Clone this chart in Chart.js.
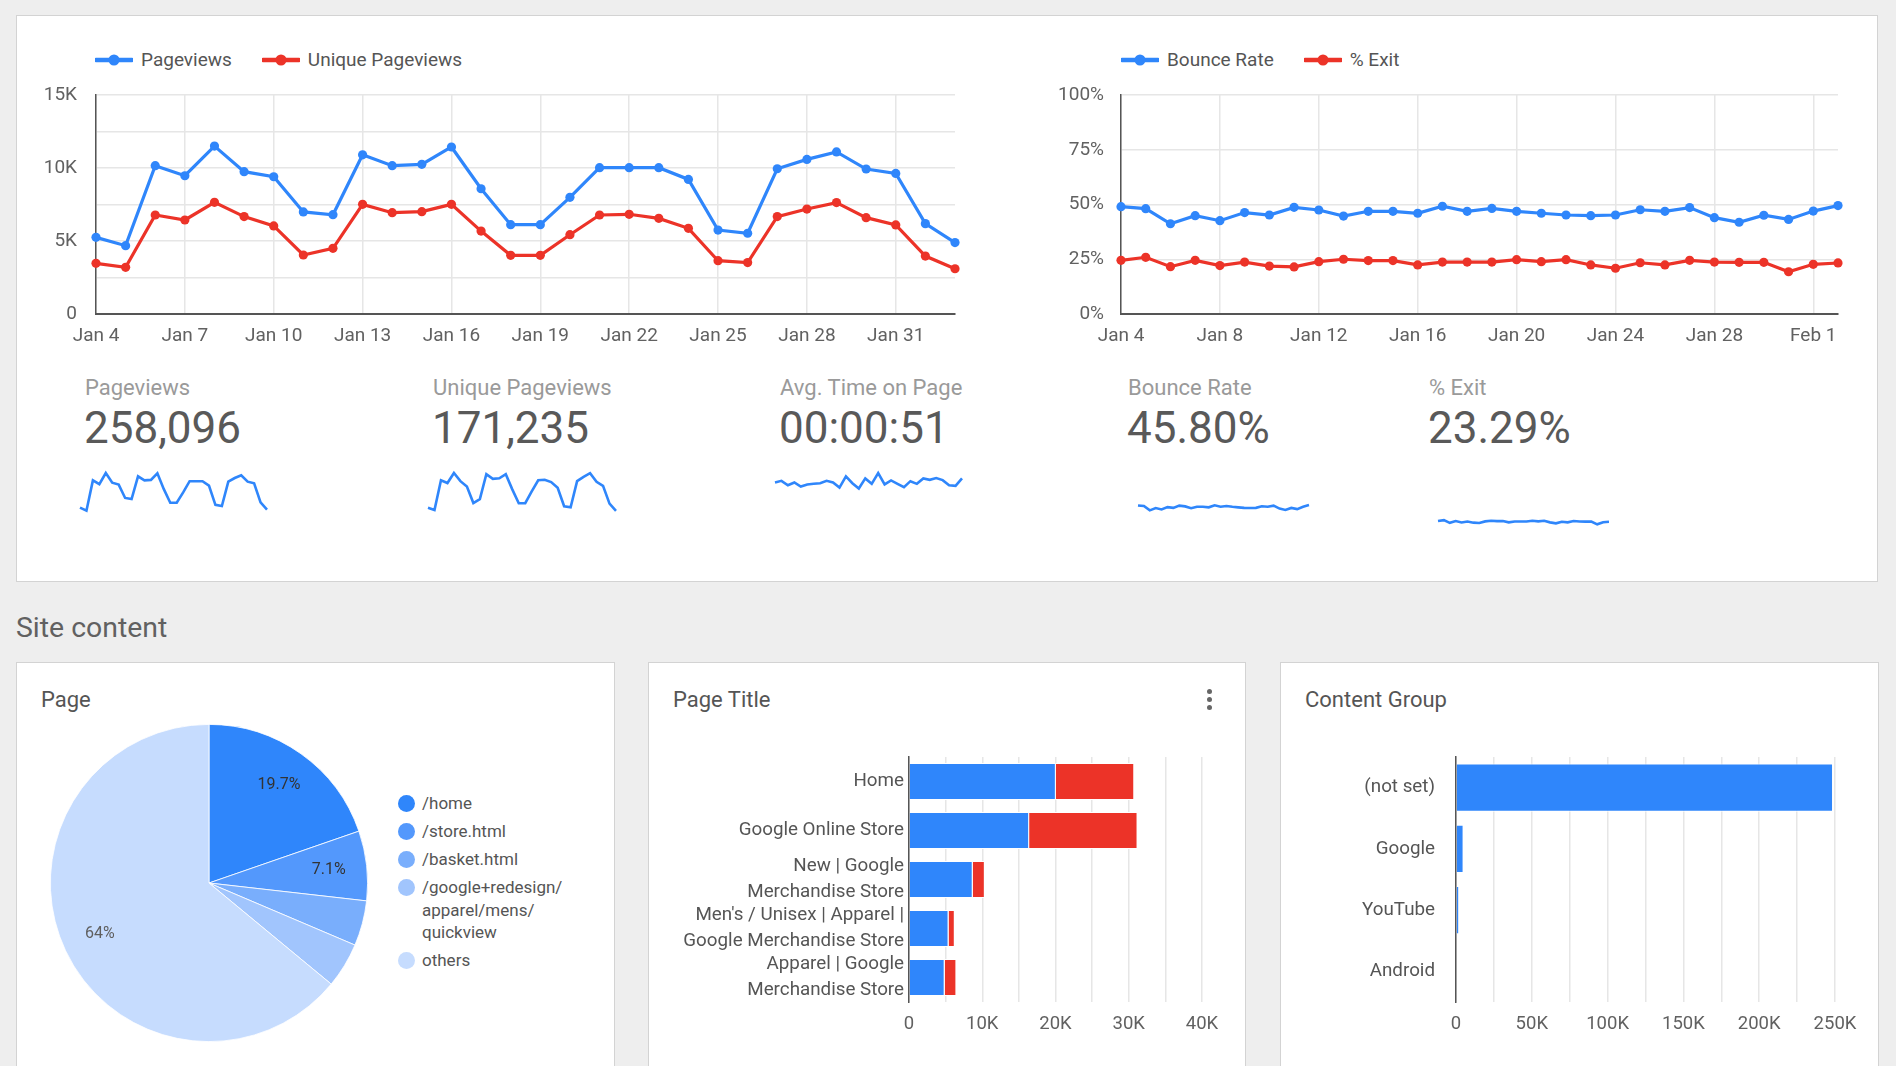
<!DOCTYPE html>
<html>
<head>
<meta charset="utf-8">
<title>Site content overview</title>
<script src="https://cdn.jsdelivr.net/npm/chart.js@4.4.1/dist/chart.umd.min.js"></script>
<style>
  html, body { margin: 0; padding: 0; }
  body {
    width: 1896px; height: 1066px; overflow: hidden; position: relative;
    background: #eeeeee; font-family: Roboto, 'Open Sans', sans-serif; color: #555;
  }
  .panel { position: absolute; background: #fff; border: 1px solid #d3d3d3; box-sizing: border-box; }
  canvas { position: absolute; display: block; }
  .txt { position: absolute; white-space: nowrap; }

  /* top trend legends */
  .legend { position: absolute; top: 48px; display: flex; font-size: 19px; line-height: 24px; color: #555; }
  .legend .item { display: flex; align-items: center; margin-right: 30px; }
  .legend svg { margin-right: 8px; }

  /* scorecards */
  .score-label { font-size: 22px; line-height: 24px; top: 376px; color: #9a9a9a; }
  .score-value { font-size: 44px; line-height: 50px; top: 403px; color: #595959; }

  .section { left: 16px; top: 612px; font-size: 28.4px; line-height: 32px; color: #616161; }
  .card-title { top: 688px; font-size: 22px; line-height: 24px; color: #555; }

  /* pie legend */
  #pieLegend { position: absolute; left: 398px; top: 792px; font-size: 17px; line-height: 22.5px; color: #555; }
  #pieLegend .row { display: flex; margin-bottom: 5.5px; }
  #pieLegend .dot { width: 17px; height: 17px; border-radius: 50%; margin: 2.75px 7px 0 0; flex: none; }
  #pieLegend .lbl { max-width: 160px; white-space: normal; }

  .menu { position: absolute; left: 1207px; top: 689px; }
  .menu span { display: block; width: 5px; height: 5px; border-radius: 50%; background: #666; margin-bottom: 3px; }
</style>
</head>
<body>

<!-- ═══ Top panel: trends + scorecards ═══ -->
<div class="panel" style="left:16px; top:15px; width:1862px; height:567px;"></div>

<div class="legend" id="legendTraffic" style="left:95px;"></div>
<div class="legend" id="legendRates" style="left:1121px;"></div>

<canvas id="trafficChart" width="950" height="300" style="left:16px; top:55px;"></canvas>
<canvas id="ratesChart"   width="810" height="300" style="left:1040px; top:55px;"></canvas>

<div id="scorecards"></div>

<canvas id="spark0" width="193" height="72" style="left:77px;   top:468px;"></canvas>
<canvas id="spark1" width="194" height="72" style="left:425px;  top:468px;"></canvas>
<canvas id="spark2" width="193" height="72" style="left:772px;  top:468px;"></canvas>
<canvas id="spark3" width="177" height="72" style="left:1135px; top:468px;"></canvas>
<canvas id="spark4" width="177" height="72" style="left:1435px; top:468px;"></canvas>

<!-- ═══ Site content ═══ -->
<div class="txt section">Site content</div>

<div class="panel" style="left:16px;   top:662px; width:599px; height:420px;"></div>
<div class="panel" style="left:648px;  top:662px; width:598px; height:420px;"></div>
<div class="panel" style="left:1280px; top:662px; width:599px; height:420px;"></div>

<div class="txt card-title" style="left:41px;">Page</div>
<div class="txt card-title" style="left:673px;">Page Title</div>
<div class="txt card-title" style="left:1305px;">Content Group</div>
<div class="menu"><span></span><span></span><span></span></div>

<canvas id="pageChart" width="318" height="318" style="left:50px; top:724px;"></canvas>
<div id="pieLegend"></div>

<canvas id="titleChart" width="598" height="349" style="left:648px;  top:717px;"></canvas>
<canvas id="groupChart" width="599" height="349" style="left:1280px; top:717px;"></canvas>

<script>
'use strict';

/* ═══════════════════════════════════════════════════════════
 *  DATA
 * ═══════════════════════════════════════════════════════════ */
const DAYS = [
  'Jan 4', 'Jan 5', 'Jan 6', 'Jan 7', 'Jan 8', 'Jan 9', 'Jan 10', 'Jan 11', 'Jan 12', 'Jan 13',
  'Jan 14', 'Jan 15', 'Jan 16', 'Jan 17', 'Jan 18', 'Jan 19', 'Jan 20', 'Jan 21', 'Jan 22', 'Jan 23',
  'Jan 24', 'Jan 25', 'Jan 26', 'Jan 27', 'Jan 28', 'Jan 29', 'Jan 30', 'Jan 31', 'Feb 1', 'Feb 2',
];
const PAGEVIEWS = [
  5250, 4680, 10160, 9470, 11500, 9750, 9400, 6990, 6800, 10900,
  10160, 10250, 11440, 8580, 6120, 6120, 7990, 10020, 10020, 10020,
  9220, 5750, 5530, 9950, 10590, 11100, 9930, 9630, 6190, 4890,
];
const UNIQUE_PAGEVIEWS = [
  3470, 3200, 6780, 6440, 7650, 6670, 6030, 4040, 4500, 7510,
  6940, 7010, 7510, 5680, 4020, 4020, 5430, 6780, 6830, 6550,
  5870, 3650, 3520, 6670, 7190, 7630, 6600, 6100, 3970, 3100,
];
const AVG_TIME_SEC = [
  51.0, 52.5, 48.4, 51.0, 47.2, 49.1, 49.7, 50.3, 52.5, 51.0,
  46.2, 56.7, 50.3, 45.3, 54.8, 49.7, 59.9, 49.1, 52.9, 49.7,
  46.5, 52.2, 49.7, 54.8, 53.5, 55.1, 53.2, 48.4, 47.8, 54.8,
];
const BOUNCE_RATE = [
  49.0, 48.1, 41.2, 44.9, 42.6, 46.3, 45.2, 48.7, 47.5, 44.7,
  46.9, 46.9, 46.0, 49.2, 46.9, 48.2, 46.9, 46.0, 45.2, 44.9,
  45.2, 47.6, 46.9, 48.6, 44.0, 41.9, 45.1, 43.2, 47.0, 49.5,
];
const EXIT_RATE = [
  24.5, 25.9, 21.6, 24.5, 22.1, 23.7, 21.9, 21.5, 23.9, 25.0,
  24.4, 24.4, 22.4, 23.7, 23.7, 23.7, 24.8, 23.9, 24.8, 22.4,
  20.9, 23.4, 22.4, 24.5, 23.7, 23.6, 23.6, 19.3, 22.7, 23.3,
];

const SCORE_LABELS = ['Pageviews', 'Unique Pageviews', 'Avg. Time on Page', 'Bounce Rate', '% Exit'];
const SCORE_VALUES = ['258,096', '171,235', '00:00:51', '45.80%', '23.29%'];

const PAGES       = ['/home', '/store.html', '/basket.html', '/google+redesign/apparel/mens/quickview', 'others'];
const PAGE_SHARE  = [19.7, 7.1, 4.6, 4.6, 64.0];

const PAGE_TITLES = [
  'Home',
  'Google Online Store',
  ['New | Google', 'Merchandise Store'],
  ["Men's / Unisex | Apparel |", 'Google Merchandise Store'],
  ['Apparel | Google', 'Merchandise Store'],
];
const TITLE_PAGEVIEWS        = [20050, 16400, 8700, 5400, 4870];
const TITLE_UNIQUE_PAGEVIEWS = [10700, 14800, 1650, 850, 1600];

const CONTENT_GROUPS = ['(not set)', 'Google', 'YouTube', 'Android'];
const GROUP_PAGEVIEWS = [248700, 5000, 2100, 500];

/* ═══════════════════════════════════════════════════════════
 *  STYLE
 * ═══════════════════════════════════════════════════════════ */
const BLUE = '#2f86fb';
const RED  = '#ec3328';
const GRID = '#e6e6e6';
const AXIS = '#555555';
const PIE_COLORS = ['#2f86fb', '#5398fc', '#79aefc', '#a1c5fd', '#c6dcfe'];

Chart.defaults.font.family = "Roboto, 'Open Sans', sans-serif";
Chart.defaults.color = '#616161';
Chart.defaults.animation = false;
Chart.defaults.responsive = false;
Chart.defaults.plugins.legend.display = false;
Chart.defaults.plugins.tooltip.enabled = false;

const kFormat = (v) => (v === 0 ? '0' : v / 1000 + 'K');

/* ═══════════════════════════════════════════════════════════
 *  HTML LEGENDS (line + dot marker)
 * ═══════════════════════════════════════════════════════════ */
function buildLegend(id, items) {
  const el = document.getElementById(id);
  el.innerHTML = items.map((it) =>
    '<div class="item"><svg width="38" height="12">' +
    '<line x1="1" y1="6" x2="37" y2="6" stroke="' + it.color + '" stroke-width="4.5" stroke-linecap="round"/>' +
    '<circle cx="19" cy="6" r="5.5" fill="' + it.color + '"/></svg>' + it.label + '</div>'
  ).join('');
}

/* ═══════════════════════════════════════════════════════════
 *  TREND LINE CHARTS
 *  (top padding 40 is larger than the axis label overhang,
 *   so the plot top lands at canvas top + 40)
 * ═══════════════════════════════════════════════════════════ */
function initTrend(id, series, o) {
  new Chart(document.getElementById(id), {
    type: 'line',
    data: {
      labels: DAYS,
      datasets: series.map((s) => ({
        label: s.label,
        data: s.data,
        borderColor: s.color,
        backgroundColor: s.color,
        borderWidth: 3.2,
        pointRadius: 4.6,
        pointBorderWidth: 0,
        tension: 0,
        clip: false,
      })),
    },
    options: {
      layout: { padding: { top: 40, right: o.padRight, left: 0, bottom: 0 } },
      scales: {
        x: {
          grid: {
            color: (c) => (c.index % o.every === 0 ? GRID : 'rgba(0,0,0,0)'),
            lineWidth: 1.5,
            drawTicks: false,
          },
          border: { color: AXIS, width: 2 },
          ticks: {
            autoSkip: false, maxRotation: 0, minRotation: 0, padding: 11,
            font: { size: 19 },
            callback: (v, i) => (i % o.every === 0 ? DAYS[i] : ''),
          },
          afterFit: (s) => { s.height = 41; },
        },
        y: {
          min: 0, max: o.max,
          grid: { color: GRID, lineWidth: 1.5, drawTicks: false },
          border: { color: AXIS, width: 1.5 },
          ticks: { stepSize: o.step, padding: o.tickPad, font: { size: 19 }, callback: o.format },
          afterFit: (s) => { s.width = o.yWidth; },
        },
      },
    },
  });
}

/* ═══════════════════════════════════════════════════════════
 *  SPARKLINES
 * ═══════════════════════════════════════════════════════════ */
function initSpark(id, data, max) {
  new Chart(document.getElementById(id), {
    type: 'line',
    data: {
      labels: DAYS,
      datasets: [{ data: data, borderColor: BLUE, borderWidth: 2.6, pointRadius: 0, tension: 0, clip: false }],
    },
    options: {
      layout: { padding: { left: 3, right: 3, top: 5, bottom: 3.4 } },
      scales: {
        x: { display: false },
        y: { display: false, min: 0, max: max },
      },
    },
  });
}

/* ═══════════════════════════════════════════════════════════
 *  PIE (Page)
 * ═══════════════════════════════════════════════════════════ */
const pieLabels = {
  id: 'pieLabels',
  afterDatasetsDraw(chart) {
    const ctx = chart.ctx;
    const data = chart.data.datasets[0].data;
    const total = data.reduce((a, b) => a + b, 0);
    ctx.save();
    ctx.font = "16px Roboto, sans-serif";
    ctx.textAlign = 'center';
    ctx.textBaseline = 'middle';
    chart.getDatasetMeta(0).data.forEach((arc, i) => {
      const pct = data[i] / total * 100;
      if (pct < 7) return;
      const mid = (arc.startAngle + arc.endAngle) / 2;
      const r = arc.outerRadius * 0.76;
      ctx.fillStyle = i < 2 ? '#333' : '#5f5f5f';
      ctx.fillText(parseFloat(pct.toFixed(1)) + '%', arc.x + Math.cos(mid) * r, arc.y + Math.sin(mid) * r);
    });
    ctx.restore();
  },
};

function initPie() {
  new Chart(document.getElementById('pageChart'), {
    type: 'pie',
    data: {
      labels: PAGES,
      datasets: [{ data: PAGE_SHARE, backgroundColor: PIE_COLORS, borderColor: '#ffffff', borderWidth: 0.8 }],
    },
    options: { layout: { padding: 0 } },
    plugins: [pieLabels],
  });

  document.getElementById('pieLegend').innerHTML = PAGES.map((p, i) =>
    '<div class="row"><div class="dot" style="background:' + PIE_COLORS[i] + '"></div>' +
    '<div class="lbl">' + p.replace(/\//g, '/<wbr>') + '</div></div>'
  ).join('');
}

/* ═══════════════════════════════════════════════════════════
 *  HORIZONTAL BARS
 * ═══════════════════════════════════════════════════════════ */
function initBars(id, labels, datasets, o) {
  new Chart(document.getElementById(id), {
    type: 'bar',
    data: {
      labels: labels,
      datasets: datasets.map((d) => ({
        label: d.label, data: d.data, backgroundColor: d.color,
        borderColor: '#ffffff', borderWidth: 1,
        barPercentage: o.barPct, categoryPercentage: 1,
      })),
    },
    options: {
      indexAxis: 'y',
      layout: { padding: { top: 40, right: o.padRight, left: 0, bottom: 0 } },
      scales: {
        x: {
          stacked: true, min: 0, max: o.max,
          grid: { color: GRID, lineWidth: 1.5, drawTicks: false },
          border: { display: false },
          ticks: {
            stepSize: o.step, padding: 11, font: { size: 18.5 },
            autoSkip: false, maxRotation: 0, minRotation: 0,
            callback: (v) => (v % o.labelEvery === 0 ? kFormat(v) : ''),
          },
          afterFit: (s) => { s.height = 64; },
        },
        y: {
          stacked: true,
          grid: { display: false, drawTicks: false },
          border: { color: AXIS, width: 1.5 },
          ticks: { color: '#555', padding: o.tickPad, font: { size: 18.8, lineHeight: 1.36 }, autoSkip: false },
          afterFit: (s) => { s.width = o.yWidth; },
        },
      },
    },
  });
}

/* ═══════════════════════════════════════════════════════════
 *  SCORECARDS
 * ═══════════════════════════════════════════════════════════ */
function initScorecards() {
  const xs = [85, 433, 780, 1128, 1429];
  document.getElementById('scorecards').innerHTML = SCORE_LABELS.map((l, i) =>
    '<div class="txt score-label" style="left:' + xs[i] + 'px">' + l + '</div>' +
    '<div class="txt score-value" style="left:' + (xs[i] - 1) + 'px">' + SCORE_VALUES[i] + '</div>'
  ).join('');
}

/* ═══════════════════════════════════════════════════════════
 *  INIT
 * ═══════════════════════════════════════════════════════════ */
buildLegend('legendTraffic', [
  { label: 'Pageviews', color: BLUE },
  { label: 'Unique Pageviews', color: RED },
]);
buildLegend('legendRates', [
  { label: 'Bounce Rate', color: BLUE },
  { label: '% Exit', color: RED },
]);

initTrend('trafficChart', [
  { label: 'Pageviews', data: PAGEVIEWS, color: BLUE },
  { label: 'Unique Pageviews', data: UNIQUE_PAGEVIEWS, color: RED },
], {
  max: 15000, step: 2500, every: 3, yWidth: 80, tickPad: 19, padRight: 11,
  format: (v) => (v % 5000 === 0 ? kFormat(v) : ''),
});

initTrend('ratesChart', [
  { label: 'Bounce Rate', data: BOUNCE_RATE, color: BLUE },
  { label: '% Exit', data: EXIT_RATE, color: RED },
], {
  max: 100, step: 25, every: 4, yWidth: 81, tickPad: 17, padRight: 12,
  format: (v) => v + '%',
});

initScorecards();
initSpark('spark0', PAGEVIEWS, Math.max(...PAGEVIEWS));
initSpark('spark1', UNIQUE_PAGEVIEWS, Math.max(...UNIQUE_PAGEVIEWS));
initSpark('spark2', AVG_TIME_SEC, Math.max(...AVG_TIME_SEC));
initSpark('spark3', BOUNCE_RATE, 100);
initSpark('spark4', EXIT_RATE, 100);

initPie();

initBars('titleChart', PAGE_TITLES, [
  { label: 'Pageviews', data: TITLE_PAGEVIEWS, color: BLUE },
  { label: 'Unique Pageviews', data: TITLE_UNIQUE_PAGEVIEWS, color: RED },
], { max: 40000, step: 5000, labelEvery: 10000, barPct: 0.76, yWidth: 261, tickPad: 5, padRight: 44 });

initBars('groupChart', CONTENT_GROUPS, [
  { label: 'Pageviews', data: GROUP_PAGEVIEWS, color: BLUE },
], { max: 250000, step: 25000, labelEvery: 50000, barPct: 0.79, yWidth: 176, tickPad: 21, padRight: 44 });
</script>
</body>
</html>
